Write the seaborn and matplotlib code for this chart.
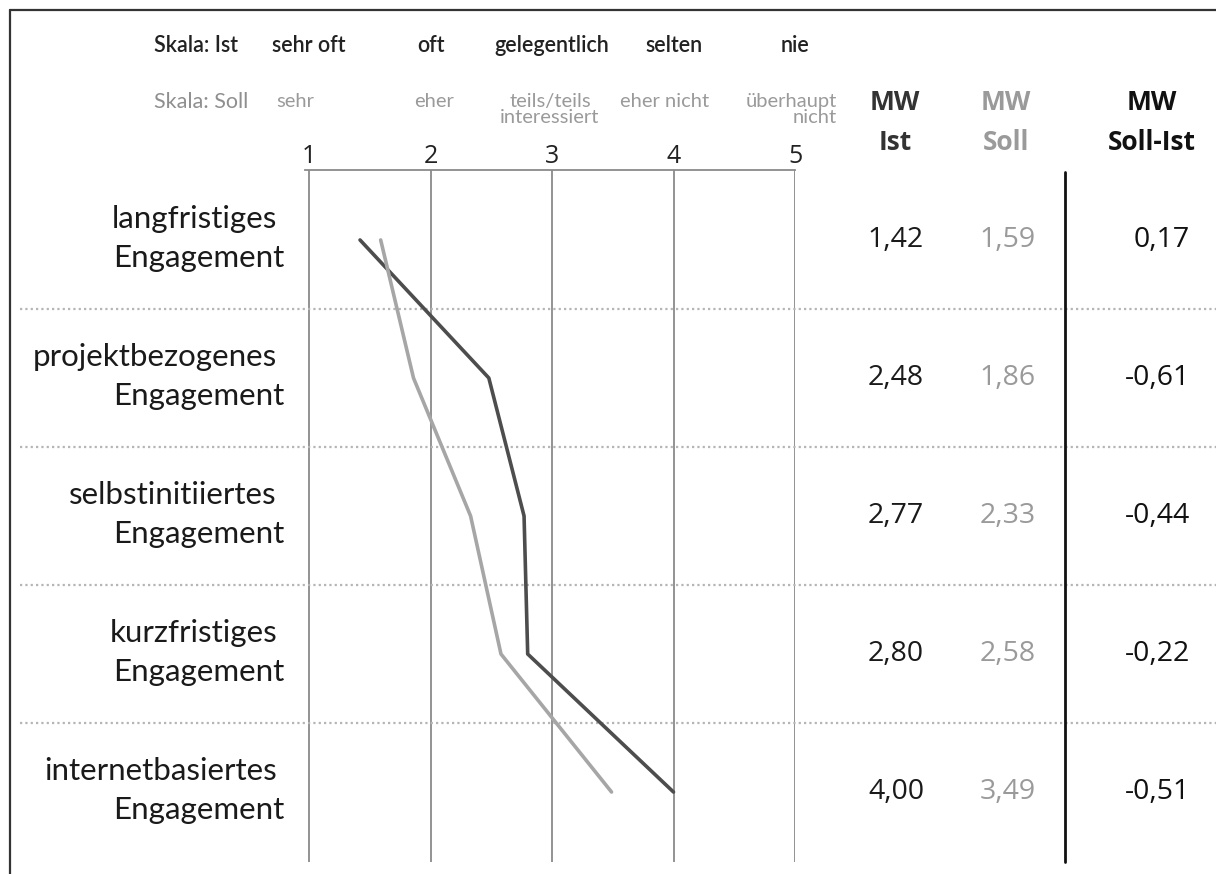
import matplotlib
matplotlib.use("Agg")
import matplotlib.pyplot as plt
import seaborn as sns
import pandas as pd
from matplotlib.lines import Line2D
import matplotlib.transforms as mtransforms

# ---------------- data ----------------
categories = ["langfristiges\nEngagement", "projektbezogenes\nEngagement",
              "selbstinitiiertes\nEngagement", "kurzfristiges\nEngagement",
              "internetbasiertes\nEngagement"]
mw_ist = [1.42, 2.48, 2.77, 2.80, 4.00]
mw_soll = [1.59, 1.86, 2.33, 2.58, 3.49]
mw_diff = [0.17, -0.61, -0.44, -0.22, -0.51]
scale_ticks = [1, 2, 3, 4, 5]
scale_ist_labels = ["sehr oft", "oft", "gelegentlich", "selten", "nie"]
scale_soll_labels = ["sehr", "eher", "teils/teils\ninteressiert", "eher nicht", "überhaupt\nnicht"]

sns.set_theme(style="white")
plt.rcParams["font.family"] = ["Lato", "DejaVu Sans"]
NUMFONT = ["Open Sans", "DejaVu Sans"]

W, H = 1216, 874
fig = plt.figure(figsize=(W / 100, H / 100), dpi=100)
fig.patch.set_facecolor("white")

def fx(x):
    return x / W

def fy(y):
    return 1 - y / H

# main axes: x from 305px (value ~0.967) to 795px (value 5), y from 170px to 862px
ax = fig.add_axes([fx(305), fy(862), fx(795) - fx(305), fy(170) - fy(862)])
ax.set_facecolor("none")
rows = list(range(len(categories)))
ax.set_xlim(1 - 4 / 121.5, 5)
ax.set_ylim(4.507, -0.507)

df = pd.DataFrame({
    "wert": mw_ist + mw_soll,
    "row": rows + rows,
    "serie": ["Ist"] * len(rows) + ["Soll"] * len(rows),
})
sns.lineplot(data=df, x="wert", y="row", hue="serie", orient="y", sort=False,
             estimator=None, palette={"Ist": "#4d4d4d", "Soll": "#a6a6a6"},
             linewidth=2.6, legend=False, ax=ax)
ax.set_xlabel("")
ax.set_ylabel("")

# vertical scale lines
ax.vlines(scale_ticks, 4.507, -0.507, color="#8a8a8a", linewidth=1.3, zorder=0)

for s in ["left", "right", "bottom"]:
    ax.spines[s].set_visible(False)
ax.spines["top"].set_visible(True)
ax.spines["top"].set_color("#8a8a8a")
ax.spines["top"].set_linewidth(1.3)
ax.xaxis.tick_top()
ax.set_xticks(scale_ticks)
ax.set_xticklabels([str(t) for t in scale_ticks], fontsize=18, color="#222222",
                   family=NUMFONT)
ax.tick_params(axis="x", length=0, pad=1)
ax.set_yticks([])

# blended transform: figure x, data y
blend = mtransforms.blended_transform_factory(fig.transFigure, ax.transData)

# dotted separators between rows
for r in rows[:-1]:
    ax.add_line(Line2D([fx(20), 1.0], [r + 0.5, r + 0.5], transform=blend,
                       color="#b5b5b5", linestyle=(0, (1, 1.4)), linewidth=1.6,
                       clip_on=False, zorder=0))

# row labels
for r, cat in zip(rows, categories):
    first, second = cat.split("\n")
    ax.text(fx(277), r - 0.15, first, transform=blend, ha="right", va="center",
            fontsize=22.5, color="#1a1a1a")
    ax.text(fx(284), r + 0.13, second, transform=blend, ha="right", va="center",
            fontsize=22.5, color="#1a1a1a")

# value columns
for r, a, b, d in zip(rows, mw_ist, mw_soll, mw_diff):
    ax.text(fx(896), r, f"{a:.2f}".replace(".", ","), transform=blend,
            ha="center", va="center", fontsize=20.5, color="#1a1a1a", family=NUMFONT)
    ax.text(fx(1008), r, f"{b:.2f}".replace(".", ","), transform=blend,
            ha="center", va="center", fontsize=20.5, color="#9a9a9a", family=NUMFONT)
    ax.text(fx(1190), r, f"{d:.2f}".replace(".", ","), transform=blend,
            ha="right", va="center", fontsize=20.5, color="#111111", family=NUMFONT)

# column headers
hdr = dict(ha="center", va="center", fontsize=19, fontweight="bold", family=NUMFONT)
fig.text(fx(895), fy(103), "MW", color="#333333", **hdr)
fig.text(fx(895), fy(142), "Ist", color="#333333", **hdr)
fig.text(fx(1006), fy(103), "MW", color="#9a9a9a", **hdr)
fig.text(fx(1006), fy(142), "Soll", color="#9a9a9a", **hdr)
fig.text(fx(1152), fy(103), "MW", color="#111111", **hdr)
fig.text(fx(1152), fy(142), "Soll-Ist", color="#111111", **hdr)

# scale headers
xblend = mtransforms.blended_transform_factory(ax.transData, fig.transFigure)
fig.text(fx(154), fy(45), "Skala: Ist", ha="left", va="center", fontsize=15.5,
         fontweight="semibold", color="#222222")
fig.text(fx(154), fy(102), "Skala: Soll", ha="left", va="center", fontsize=15.5,
         color="#8f8f8f")
for t, lab in zip(scale_ticks, scale_ist_labels):
    ax.text(t, fy(45), lab, transform=xblend, ha="center", va="center",
            fontsize=15.5, fontweight="semibold", color="#222222")
soll_pos = [(fx(276), "left"), (fx(434), "center"), (fx(550), "center"),
            (fx(665), "center"), (fx(837), "right")]
for (x, ha), lab in zip(soll_pos, scale_soll_labels):
    fig.text(x, fy(93), lab, ha=ha, va="top", fontsize=14.5, color="#9a9a9a",
             multialignment=ha, linespacing=0.9)

# black separator line before Soll-Ist column
ax.add_line(Line2D([fx(1065), fx(1065)], [fy(172), fy(862)],
                   transform=fig.transFigure, color="#111111", linewidth=2,
                   clip_on=False))

# frame lines (top and left)
fig.add_artist(Line2D([fx(10), 1.0], [fy(10), fy(10)], color="#333333", linewidth=1.6))
fig.add_artist(Line2D([fx(10), fx(10)], [fy(10), 0.0], color="#333333", linewidth=1.6))

fig.savefig("out.png", dpi=100, facecolor="white")
